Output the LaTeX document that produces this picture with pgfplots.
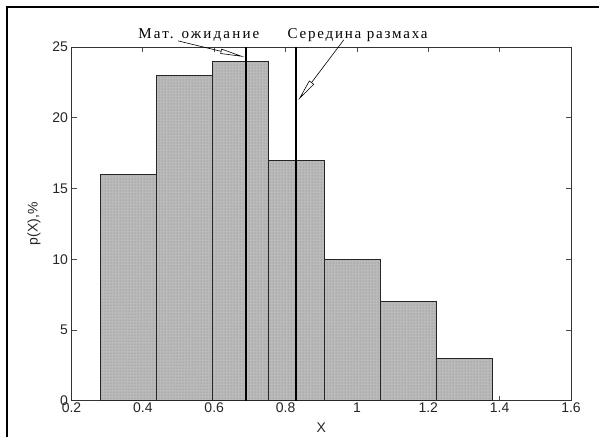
\documentclass[border=0pt]{standalone}
\usepackage{pgfplots}
\pgfplotsset{compat=1.18}
\usepackage{fontspec}
\setmainfont{Liberation Sans}
\newfontfamily\serifcyr[LetterSpace=12]{Liberation Serif}
\newfontfamily\serifcyrw[LetterSpace=14.5]{Liberation Serif}
\usetikzlibrary{arrows.meta,patterns}
\begin{document}
\begin{tikzpicture}
\useasboundingbox (0pt,0pt) rectangle (599pt,437pt);
\draw[line width=2pt] (6.5pt,0pt) -- (6.5pt,429.7pt) -- (600pt,429.7pt);
\begin{axis}[
  at={(71.5pt,36.2pt)}, anchor=south west,
  width=499.5pt, height=353.8pt, scale only axis,
  xmin=0.2, xmax=1.6, ymin=0, ymax=25,
  xtick={0.2,0.4,0.6,0.8,1,1.2,1.4,1.6},
  ytick={0,5,10,15,20,25},
  tick align=inside, major tick length=5pt,
  axis line style={black!80, line width=0.8pt},
  tick style={black!70, line width=0.8pt},
  /pgf/number format/assume math mode=true,
  /pgf/number format/fixed,
  tick label style={font=\fontsize{14}{16}\selectfont, text=black!85},
  xticklabel style={yshift=1.5pt},
  xlabel={X}, ylabel={p(X),\%},
  every axis x label/.style={at={(axis description cs:0.5,-0.077)}, anchor=center, font=\fontsize{14}{16}\selectfont, text=black!85},
  every axis y label/.style={at={(axis description cs:-0.075,0.5)}, anchor=center, rotate=90, font=\fontsize{14}{16}\selectfont, text=black!85},
  clip=false,
]
\addplot[ybar interval, fill=black!27, draw=black!85, line width=0.7pt,
  postaction={pattern=dots, pattern color=black!50}]
  coordinates {(0.280,16) (0.437,23) (0.594,24) (0.751,17) (0.908,10) (1.065,7) (1.222,3) (1.379,0)};
\addplot[black, line width=2pt] coordinates {(0.689,0) (0.689,25)};
\addplot[black, line width=2pt] coordinates {(0.829,0) (0.829,25)};
\node[anchor=base west, inner sep=0pt, font=\serifcyrw\fontsize{15}{17}\selectfont] at (axis cs:0.387,25.62) {Мат. ожидание};
\node[anchor=base west, inner sep=0pt, font=\serifcyr\fontsize{15}{17}\selectfont] at (axis cs:0.805,25.62) {Середина размаха};
\draw[-{Triangle[open,length=24pt,width=5pt]}, line width=0.6pt] (axis cs:0.499,25.43) -- (axis cs:0.684,24.30);
\draw[-{Triangle[open,length=22pt,width=6pt]}, line width=0.6pt] (axis cs:0.963,25.5) -- (axis cs:0.836,21.26);
\end{axis}
\end{tikzpicture}
\end{document}
